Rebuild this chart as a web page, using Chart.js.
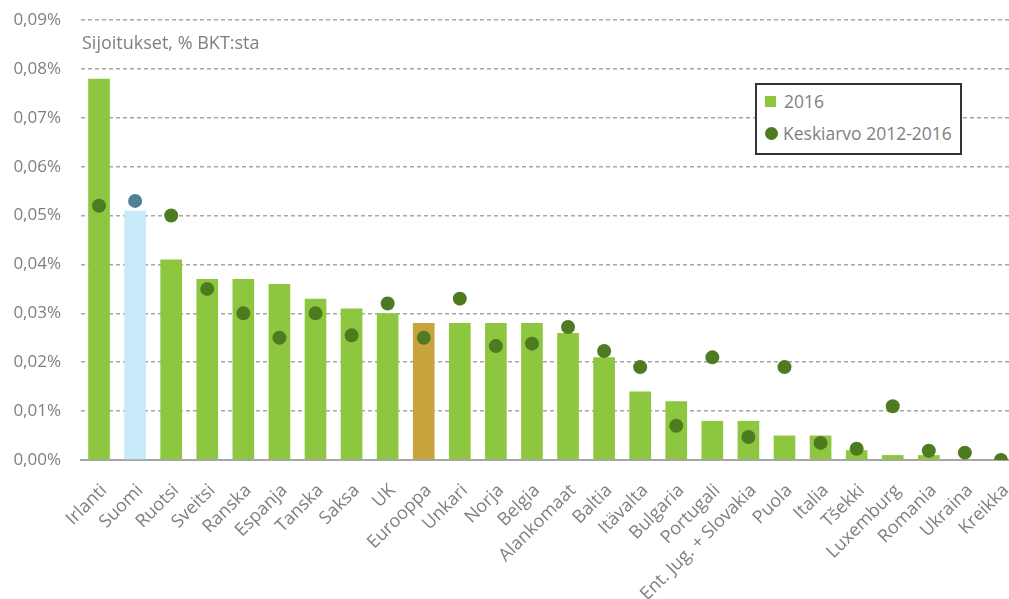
<!DOCTYPE html>
<html>
<head>
<meta charset="utf-8">
<script src="https://cdn.jsdelivr.net/npm/chart.js@4"></script>
<style>
  html, body { margin: 0; padding: 0; background: #fff; overflow: hidden; }
  #wrap { position: relative; width: 1009px; height: 599px; overflow: hidden; }
  #legend {
    position: absolute; left: 755px; top: 83px; width: 203px; height: 68px;
    border: 2px solid #333; background: #fff;
    font-family: 'Open Sans', sans-serif; font-size: 17.5px; color: #7f7f7f;
  }
  #legend .item { position: absolute; left: 8px; display: flex; align-items: center; white-space: nowrap; }
  #legend .sq { width: 11px; height: 11px; background: #8dc63f; margin-right: 8px; }
  #legend .dot { width: 13px; height: 13px; border-radius: 50%; background: #4e7a22; margin-right: 5px; }
</style>
</head>
<body>
<div id="wrap">
  <canvas id="chart" width="1026" height="599"></canvas>
  <div id="legend">
    <div class="item" style="top:4px"><span class="sq"></span>2016</div>
    <div class="item" style="top:36px"><span class="dot"></span>Keskiarvo 2012-2016</div>
  </div>
</div>
<script>
const countries = ['Irlanti', 'Suomi', 'Ruotsi', 'Sveitsi', 'Ranska', 'Espanja', 'Tanska', 'Saksa', 'UK', 'Eurooppa',
  'Unkari', 'Norja', 'Belgia', 'Alankomaat', 'Baltia', 'Itävalta', 'Bulgaria', 'Portugali', 'Ent. Jug. + Slovakia',
  'Puola', 'Italia', 'Tšekki', 'Luxemburg', 'Romania', 'Ukraina', 'Kreikka'];
const share2016 = [0.078, 0.051, 0.041, 0.037, 0.037, 0.036, 0.033, 0.031, 0.030, 0.028,
  0.028, 0.028, 0.028, 0.026, 0.021, 0.014, 0.012, 0.008, 0.008,
  0.005, 0.005, 0.002, 0.001, 0.001, 0, 0];
const avg2012_2016 = [0.052, 0.053, 0.050, 0.035, 0.030, 0.025, 0.030, 0.0255, 0.032, 0.025,
  0.033, 0.0233, 0.0238, 0.0272, 0.0223, 0.019, 0.007, 0.021, 0.0047,
  0.019, 0.0035, 0.0023, 0.011, 0.0019, 0.0015, 0];
const yTicks = [0, 0.01, 0.02, 0.03, 0.04, 0.05, 0.06, 0.07, 0.08, 0.09];

const barColor = c => c === 'Suomi' ? '#c6eaf8' : c === 'Eurooppa' ? '#c9a43c' : '#8dc63f';
const dotColor = c => c === 'Suomi' ? '#4f8196' : '#4e7a22';
const fmt = v => v.toFixed(2).replace('.', ',') + '%';

const subtitle = {
  id: 'subtitle',
  afterDraw(chart) {
    const { ctx, chartArea, scales } = chart;
    ctx.save();
    ctx.font = '18px "Open Sans", sans-serif';
    ctx.fillStyle = '#7f7f7f';
    ctx.textBaseline = 'middle';
    ctx.fillText('Sijoitukset, % BKT:sta', chartArea.left + 1, scales.y.getPixelForValue(0.0852));
    ctx.restore();
  }
};

Chart.defaults.font.family = '"Open Sans", sans-serif';
Chart.defaults.color = '#7f7f7f';

new Chart(document.getElementById('chart').getContext('2d'), {
  type: 'bar',
  data: {
    labels: countries,
    datasets: [{
      label: '2016',
      data: share2016,
      backgroundColor: countries.map(barColor),
      barPercentage: 0.6,
      categoryPercentage: 1,
      order: 2
    }, {
      type: 'line',
      label: 'Keskiarvo 2012-2016',
      data: avg2012_2016,
      showLine: false,
      pointRadius: 7,
      pointHoverRadius: 7,
      pointBackgroundColor: countries.map(dotColor),
      pointBorderWidth: 0,
      order: 1
    }]
  },
  options: {
    responsive: false,
    animation: false,
    layout: { padding: { top: 20, right: 0, left: 0, bottom: 0 } },
    plugins: { legend: { display: false }, tooltip: { enabled: false } },
    scales: {
      x: {
        grid: { display: false },
        border: { display: true, color: '#a6a6a6', width: 2 },
        ticks: { maxRotation: 45, minRotation: 45, autoSkip: false, font: { size: 18 }, padding: 12, labelOffset: 5 },
        afterFit(s) { s.height = 139; s.paddingRight = 0; s.paddingLeft = 0; }
      },
      y: {
        min: 0,
        max: 0.09,
        afterBuildTicks(s) { s.ticks = yTicks.map(v => ({ value: v })); },
        grid: { color: '#a6a6a6', lineWidth: 1.5, drawTicks: false },
        border: { display: false, dash: [4, 3] },
        ticks: { callback: fmt, font: { size: 17 }, padding: 20 },
        afterFit(s) { s.width = 81; s.paddingTop = 0; s.paddingBottom = 0; }
      }
    }
  },
  plugins: [subtitle]
});
</script>
</body>
</html>
